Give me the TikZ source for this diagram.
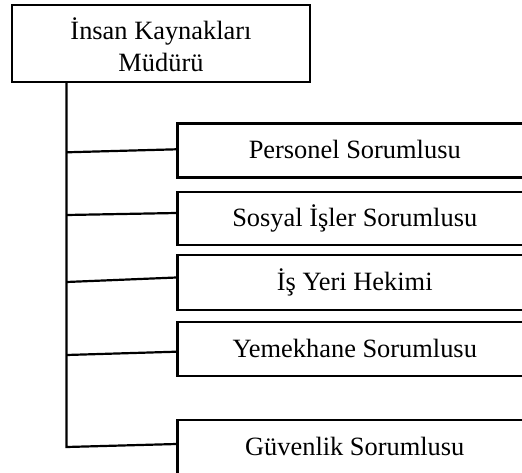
\documentclass[tikz,border=0pt]{standalone}
\usepackage{fontspec}
\setmainfont{Liberation Serif}
\begin{document}
\begin{tikzpicture}[x=1pt,y=-1pt,
  box/.style={draw, line width=2.2pt, inner sep=0pt, align=center,
    font=\fontsize{26.4}{32}\selectfont, text height=16pt, text depth=0pt},
  unit/.style={box, minimum width=354.5pt, minimum height=54pt},
  link/.style={line width=2.2pt, line join=miter}]
\useasboundingbox (0,0) rectangle (522,472);
\clip (0,0) rectangle (522,472);

% manager
\node[box, minimum width=298pt, minimum height=77pt, text height=55pt] (head) at (161,43.5) {İnsan Kaynakları\\Müdürü};

% units
\node[unit] (b1) at (354.75,150.5) {Personel Sorumlusu};
\node[unit, minimum height=53pt] (b2) at (354.75,218.5) {Sosyal İşler Sorumlusu};
\node[unit, minimum height=55pt] (b3) at (354.75,282.5) {İş Yeri Hekimi};
\node[unit] (b4) at (354.75,349) {Yemekhane Sorumlusu};
\node[unit, minimum height=55pt] (b5) at (354.75,447.5) {Güvenlik Sorumlusu};

% junctions on the trunk
\coordinate (t1) at (66.5,152.3);
\coordinate (t2) at (66.5,215);
\coordinate (t3) at (66.5,282);
\coordinate (t4) at (66.5,355);
\coordinate (t5) at (66.5,447);

% trunk and branches
\draw[link] (head.south -| t5) -- (t5) -- ([yshift=3.5pt]b5.west);
\draw[link] (t1) -- ([yshift=1.2pt]b1.west);
\draw[link] (t2) -- ([yshift=5.5pt]b2.west);
\draw[link] (t3) -- ([yshift=5pt]b3.west);
\draw[link] (t4) -- ([yshift=-2.7pt]b4.west);
\end{tikzpicture}
\end{document}
